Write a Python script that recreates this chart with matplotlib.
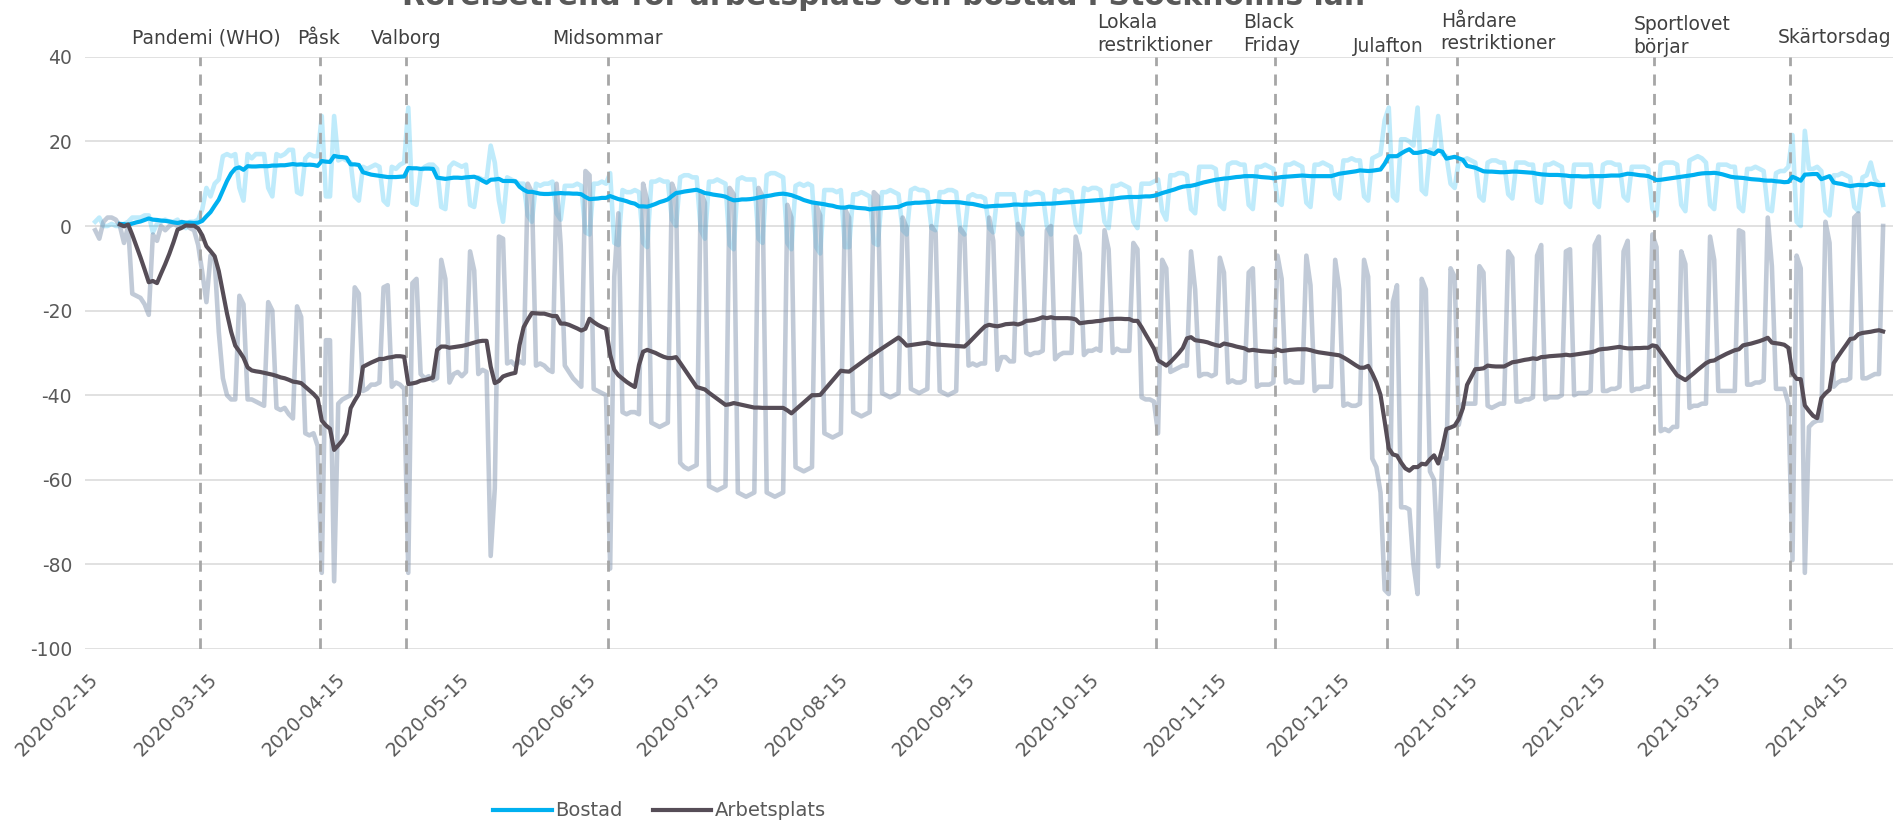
import matplotlib
matplotlib.use('Agg')
import matplotlib.pyplot as plt
import matplotlib.dates as mdates
import matplotlib.transforms as mtransforms
from matplotlib.lines import Line2D
import pandas as pd

plt.rcParams['font.family'] = ['DejaVu Sans']
plt.rcParams['axes.unicode_minus'] = False

START = '2020-02-15'

# Daily change vs baseline (%), one row per week Mon..Sun (first row: Sat-Sun 15-16 Feb)
arbetsplats_daglig = [
    -1, -3,
    1, 2, 2, 1.5, 0, -4, 0,                      # 2020-02-17
    -16, -16.5, -17, -18.5, -21, -2, -3.5,
    0, -1, 0, 0.5, 0, 1, 0.5,
    -0.5, -1, -4.5, -11, -18, -7, -8,
    -25, -36, -40, -41, -41, -16.5, -18.5,       # 2020-03-16
    -41, -41, -41.5, -42, -42.5, -18, -20,
    -43, -43.5, -43, -44.5, -45.5, -19, -21.5,
    -49, -49.5, -49, -52, -82, -27, -27,
    -84, -42, -41, -40.5, -40, -14.5, -16,       # 2020-04-13
    -39, -38.5, -37.5, -37.5, -37, -14.5, -14,
    -38, -37, -37.5, -38.5, -82, -13.5, -12.5,
    -35, -36, -35.5, -36.5, -36, -8, -12.5,
    -37, -35, -34.5, -35.5, -34.5, -6, -10.5,    # 2020-05-11
    -35, -34, -34.5, -78, -62, -2.5, -3,
    -32.5, -32, -33, -32, -32.5, 10, 8,
    -33, -32.5, -33, -34, -34.5, 10, -4.5,
    -33, -34.5, -36, -37, -38, 13, 12,           # 2020-06-08
    -38.5, -39, -39.5, -40, -81, -12, 3,
    -44, -44.5, -44, -44, -44.5, 10, 6,
    -46.5, -47, -47.5, -47, -46.5, 10, 7.5,
    -56, -57, -57.5, -57, -56.5, 8, 5.5,         # 2020-07-06
    -61.5, -62, -62.5, -62, -61.5, 9, 7.5,
    -63, -63.5, -64, -63.5, -63, 9, 7,
    -63, -63.5, -64, -63.5, -63, 5, 2,
    -57, -57.5, -58, -57.5, -57, 5, 2.5,         # 2020-08-03
    -49, -49.5, -50, -49.5, -49, 4, 2,
    -44, -44.5, -45, -44.5, -44, 8, 7,
    -39.5, -40, -40.5, -40, -39.5, 2, -0.5,
    -38.5, -39, -39.5, -39, -38.5, 0, -1.5,      # 2020-08-31
    -39, -39.5, -40, -39.5, -39, -0.5, -2,
    -33, -32.5, -33, -32.5, -32.5, 2, -3.5,
    -34, -31, -31, -32, -32, 0.5, -1.5,
    -30, -30.5, -30, -30, -29.5, -1, 0,          # 2020-09-28
    -31.5, -30.5, -30, -30, -30, -2.5, -6.5,
    -30.5, -29.5, -29.5, -29, -29.5, -1, -5.5,
    -30, -29, -29.5, -29.5, -29.5, -4, -5.5,
    -40.5, -41, -41, -41.5, -49, -8, -10,        # 2020-10-26
    -34.5, -34, -33.5, -33, -33, -6, -15,
    -35.5, -35, -35, -35.5, -35, -7.5, -11,
    -37, -36.5, -37, -37, -36.5, -11, -10,
    -38, -37.5, -37.5, -37.5, -37, -7, -12.5,    # 2020-11-23
    -37, -36.5, -37, -37, -37, -7, -14,
    -39, -38, -38, -38, -38, -8, -15,
    -42.5, -42, -42.5, -42.5, -42, -8, -12,
    -55, -57, -63, -86, -87, -18, -14,           # 2020-12-21
    -66.5, -66.5, -67, -80, -87, -12.5, -15,
    -58, -60, -80.5, -55, -55, -10, -12,
    -47, -42, -42, -42, -42, -9.5, -11,
    -42.5, -43, -42.5, -42, -42, -6, -7.5,       # 2021-01-18
    -41.5, -41.5, -41, -41, -40.5, -7, -4.5,
    -41, -40.5, -40.5, -40.5, -40, -6, -5.5,
    -40, -39.5, -39.5, -39.5, -39, -4.5, -2.5,
    -39, -39, -38.5, -38.5, -38, -6, -3.5,       # 2021-02-15
    -39, -38.5, -38.5, -38, -38, -2, -5,
    -48.5, -48, -48.5, -47.5, -47.5, -6, -9,
    -43, -42.5, -42.5, -42, -42, -2.5, -8,
    -39, -39, -39, -39, -39, -1, -1.5,           # 2021-03-15
    -37.5, -37.5, -37, -37, -36.5, 2, -9.5,
    -38.5, -38.5, -38.5, -42, -79, -7, -10,
    -82, -47.5, -46.5, -46, -46, 1, -4,
    -38, -37, -36.5, -36.5, -36, 2, 3,           # 2021-04-12
    -36, -36, -35.5, -35, -35, 0,
]

bostad_daglig = [
    1, 2,
    0, 0, 0.5, 0, 0, 0.5, 1,                     # 2020-02-17
    2, 2, 2, 2.5, 2.5, -1.5, 0.5,
    1, 1.5, 1, 1, 1.5, 0, -0.5,
    1, 1, 1.5, 4, 9, 7, 10,
    11, 16.5, 17, 16.5, 17, 9, 6,                # 2020-03-16
    17, 16, 17, 17, 17, 9, 7,
    17, 16.5, 17, 18, 18, 8, 7.5,
    16, 17, 16.5, 16.5, 26, 7, 7,
    26, 15.5, 16, 15.5, 15, 7, 6,                # 2020-04-13
    14, 13.5, 14, 14.5, 14, 6, 5,
    14, 13.5, 14.5, 15, 28, 5.5, 5,
    13, 14, 14.5, 14.5, 13.5, 4.5, 4,
    14, 15, 14.5, 14, 14.5, 5, 4.5,              # 2020-05-11
    11.5, 11, 11, 19, 15, 6, 1,
    11.5, 11, 10.5, 10, 10, 2.5, 1,
    10, 9.5, 10, 10, 10.5, 3, 1.5,
    9.5, 9.5, 9.5, 10, 9.5, -1.5, -2,            # 2020-06-08
    10, 10, 10.5, 10, 12.5, -4, -4.5,
    8.5, 8, 8, 8.5, 8, -4, -5,
    10.5, 10.5, 11, 10.5, 10.5, 1.5, 0,
    11.5, 12, 12, 11.5, 11.5, -1, -3,            # 2020-07-06
    10.5, 10.5, 11, 10.5, 10, -4.5, -5.5,
    11, 11.5, 11, 11, 11, -3, -4,
    12, 12.5, 12.5, 12, 11.5, -4, -5.5,
    9.5, 10, 9.5, 10, 9.5, -5, -6.5,             # 2020-08-03
    8.5, 8.5, 8.5, 8, 8.5, -5, -5,
    7.5, 7.5, 8, 7.5, 7, -4, -4.5,
    8, 8, 8.5, 8, 7.5, -1, -2,
    8.5, 9, 8.5, 8.5, 8, -0.5, -1,               # 2020-08-31
    8, 8, 8.5, 8.5, 8, -1, -2,
    7, 7.5, 7, 7, 6.5, -0.5, -1.5,
    7.5, 7.5, 7.5, 7.5, 7.5, -0.5, -2,
    8, 7.5, 8, 8, 7.5, 0, -2,                    # 2020-09-28
    8.5, 8, 8.5, 8.5, 8, 0.5, -1.5,
    9, 8.5, 9, 9, 8.5, 1, -0.5,
    9.5, 9.5, 10, 9.5, 9, 1, -0.5,
    10, 10, 10, 10.5, 11, 3.5, 1.5,              # 2020-10-26
    12, 12, 12.5, 12.5, 12, 4, 3,
    14, 14, 14, 14, 13.5, 5, 4,
    14.5, 15, 15, 14.5, 14.5, 5, 4,
    14, 14, 14.5, 14, 13.5, 6, 5,                # 2020-11-23
    14.5, 14.5, 15, 14.5, 14, 5.5, 4.5,
    14.5, 14.5, 15, 14.5, 14, 7.5, 6.5,
    15.5, 15.5, 16, 15.5, 15.5, 7, 6,
    16, 16.5, 17, 25, 28, 7, 6,                  # 2020-12-21
    20.5, 20.5, 20, 19, 28, 8.5, 7.5,
    18, 18, 26, 17, 16.5, 10, 9,
    15.5, 15.5, 16, 15.5, 15, 7, 6,
    15, 15.5, 15.5, 15, 15, 7.5, 6.5,            # 2021-01-18
    15, 15, 15, 14.5, 14.5, 6, 5.5,
    14.5, 14.5, 15, 14.5, 14, 5.5, 4.5,
    14.5, 14.5, 14.5, 14.5, 14.5, 5.5, 4.5,
    14.5, 15, 15, 14.5, 14.5, 7, 6,              # 2021-02-15
    14, 14, 14, 14, 13.5, 4, 2.5,
    14.5, 15, 15, 15, 14.5, 5, 3.5,
    15.5, 16, 16.5, 16, 15, 5, 4,
    14.5, 14.5, 14.5, 14, 14, 4.5, 3.5,          # 2021-03-15
    13.5, 13.5, 14, 13.5, 13, 4, 3.5,
    12.5, 13, 13, 14, 21.5, 1, 0,
    22.5, 13.5, 13.5, 14, 13, 3.5, 2.5,
    12, 12, 12.5, 12, 11.5, 4.5, 3.5,            # 2021-04-12
    11.5, 12, 15, 11, 10, 5,
]

handelse_datum = ['2020-03-11', '2020-04-09', '2020-04-30', '2020-06-18', '2020-10-29',
                  '2020-11-27', '2020-12-24', '2021-01-10', '2021-02-27', '2021-04-01']
handelse_text = ['Pandemi (WHO)', 'Påsk', 'Valborg', 'Midsommar', 'Lokala\nrestriktioner',
                 'Black\nFriday', 'Julafton', 'Hårdare\nrestriktioner', 'Sportlovet\nbörjar',
                 'Skärtorsdag']

x_etiketter = ['2020-02-15', '2020-03-15', '2020-04-15', '2020-05-15', '2020-06-15',
               '2020-07-15', '2020-08-15', '2020-09-15', '2020-10-15', '2020-11-15',
               '2020-12-15', '2021-01-15', '2021-02-15', '2021-03-15', '2021-04-15']

# label placement above the plot: days after START, height in axes fraction
etikett_dag = [26.9, 54.3, 75.6, 124.4, 257.2, 285.6, 313.9, 340.6, 385.2, 422.3]
etikett_y = [1.031, 1.031, 1.031, 1.031, 1.039, 1.039, 1.018, 1.041, 1.035, 1.033]

# --- data ---
dagar = pd.date_range(START, periods=len(arbetsplats_daglig), freq='D')
df = pd.DataFrame({'arbetsplats': arbetsplats_daglig, 'bostad': bostad_daglig}, index=dagar)
snitt = df.rolling(7).mean()

t0 = mdates.date2num(pd.Timestamp(START))

fig = plt.figure(figsize=(18.95, 8.23), dpi=100)
ax = fig.add_axes([84.6 / 1895, 174 / 823, (1893 - 84.6) / 1895, 592.2 / 823])

ax.plot(dagar, df['bostad'], color='#00B0F0', alpha=0.25, lw=3.3, zorder=2)
ax.plot(dagar, df['arbetsplats'], color='#8497B0', alpha=0.5, lw=3.3, zorder=2)
for d in handelse_datum:
    ax.axvline(mdates.date2num(pd.Timestamp(d)) + 0.5, color='#A6A6A6', lw=2.0,
               dashes=(4.0, 3.0), zorder=3)
ax.plot(dagar, snitt['bostad'], color='#00B0F0', lw=3.0, zorder=4)
ax.plot(dagar, snitt['arbetsplats'], color='#564D57', lw=3.0, zorder=4)

ax.set_ylim(-100, 40)
ax.set_yticks(range(-100, 41, 20))
ax.set_xlim(t0 - 2.57, t0 + 436.4)
ax.set_xticks(mdates.date2num(pd.to_datetime(x_etiketter)))
ax.set_xticklabels(x_etiketter, rotation=45, ha='right', va='center', rotation_mode='anchor')
ax.grid(axis='y', color='#D9D9D9', lw=1.1)
ax.set_axisbelow(True)
for s in ax.spines.values():
    s.set_visible(False)
ax.tick_params(length=0, colors='#595959', labelsize=13.5)
ax.tick_params(axis='x', pad=20)
ax.tick_params(axis='y', pad=9)

trans = mtransforms.blended_transform_factory(ax.transData, ax.transAxes)
for dag, y, txt in zip(etikett_dag, etikett_y, handelse_text):
    ax.text(t0 + dag, y, txt, transform=trans, ha='center', va='center',
            multialignment='left', fontsize=13.5, color='#404040', linespacing=1.25,
            clip_on=False)

# title sits partly above the canvas, as in the source image
fig.text(0.466, 1 - 5 / 823, 'Rörelsetrend för arbetsplats och bostad i Stockholms län',
         ha='center', va='baseline', fontsize=21.5, fontweight='bold', color='#595959')

handles = [Line2D([], [], color='#00B0F0', lw=3.0), Line2D([], [], color='#564D57', lw=3.0)]
fig.legend(handles, ['Bostad', 'Arbetsplats'], loc='center', bbox_to_anchor=(0.348, 12 / 823),
           ncol=2, frameon=False, fontsize=14, handlelength=3, handletextpad=0.15,
           columnspacing=1.6, labelcolor='#595959')

fig.savefig('out.png', dpi=100)
